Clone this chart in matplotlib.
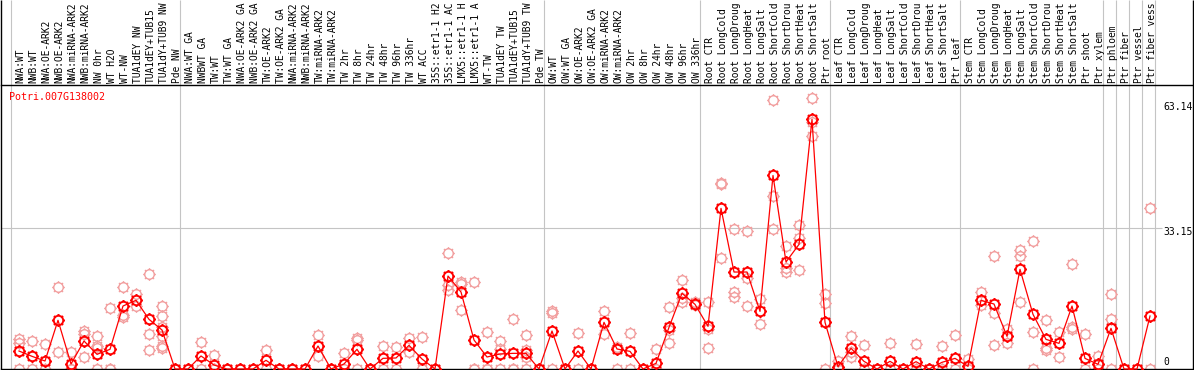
#!/usr/bin/env python3
# Expression profile of Potri.007G138002 across samples (means + replicates).

import numpy as np
import matplotlib
matplotlib.use("Agg")
import matplotlib.pyplot as plt
from matplotlib.path import Path

gene_id = "Potri.007G138002"

# sample names as far as they are visible in the header strip
group_nw = ["NWA:WT", "NWB:WT", "NWA:OE-ARK2", "NWB:OE-ARK2", "NWA:miRNA-ARK2",
            "NWB:miRNA-ARK2", "NW 0hr", "WT H2O", "WT-NW", "TUA1dEY NW",
            "TUA1dEY+TUB15", "TUA1dY+TUB9 NW", "Pde NW"]
group_tw = ["NWA:WT GA", "NWBWT GA", "TW:WT", "TW:WT GA", "NWA:OE-ARK2 GA",
            "NWB:OE-ARK2 GA", "TW:OE-ARK2", "TW:OE-ARK2 GA", "NWA:miRNA-ARK2",
            "NWB:miRNA-ARK2", "TW:miRNA-ARK2", "TW:miRNA-ARK2", "TW 2hr",
            "TW 8hr", "TW 24hr", "TW 48hr", "TW 96hr", "TW 336hr", "WT ACC",
            "35S::etr1-1 H2", "35S::etr1-1 AC", "LMX5::etr1-1 H",
            "LMX5::etr1-1 A", "WT-TW", "TUA1dEY TW", "TUA1dEY+TUB15",
            "TUA1dY+TUB9 TW", "Pde TW"]
group_ow = ["OW:WT", "OW:WT GA", "OW:OE-ARK2", "OW:OE-ARK2 GA", "OW:miRNA-ARK2",
            "OW:miRNA-ARK2", "OW 2hr", "OW 8hr", "OW 24hr", "OW 48hr",
            "OW 96hr", "OW 336hr"]
group_root = ["Root CTR", "Root LongCold", "Root LongDroug", "Root LongHeat",
              "Root LongSalt", "Root ShortCold", "Root ShortDrou",
              "Root ShortHeat", "Root ShortSalt", "Ptr root"]
group_leaf = ["Leaf CTR", "Leaf LongCold", "Leaf LongDroug", "Leaf LongHeat",
              "Leaf LongSalt", "Leaf ShortCold", "Leaf ShortDrou",
              "Leaf ShortHeat", "Leaf ShortSalt", "Ptr leaf"]
group_stem = ["Stem CTR", "Stem LongCold", "Stem LongDroug", "Stem LongHeat",
              "Stem LongSalt", "Stem ShortCold", "Stem ShortDrou",
              "Stem ShortHeat", "Stem ShortSalt", "Ptr shoot", "Ptr xylem"]
group_ptr = ["Ptr phloem", "Ptr fiber", "Ptr vessel", "Ptr fiber vess"]

groups = [group_nw, group_tw, group_ow, group_root, group_leaf, group_stem,
          group_ptr[:1], group_ptr[1:2], group_ptr[2:3], group_ptr[3:]]
labels = group_nw + group_tw + group_ow + group_root + group_leaf + group_stem + group_ptr

means = [4.23, 2.98, 1.88, 11.45, 1.18, 6.58, 3.45, 4.63, 14.81, 16.15, 11.68, 9.17, 0,
         0, 3.06, 0.94, 0, 0, 0, 2.04, 0, 0, 0, 5.41, 0, 1.18, 4.63, 0, 2.51, 2.59,
         5.56, 2.35, 0, 21.86, 18.1, 6.82, 2.82, 3.53, 3.68, 3.68, 0,
         8.93, 0, 4.23, 0, 10.97, 4.7, 4.15, 0, 1.33, 9.8, 17.8, 15.2,
         10.03, 37.77, 22.8, 22.8, 13.55, 45.5, 25.16, 29.3, 58.7, 10.97,
         0.55, 4.86, 1.8, 0, 1.8, 0, 1.72, 0, 1.57, 2.5,
         0.62, 16.15, 15.28, 7.68, 23.43, 12.85, 6.97, 6.03, 14.8, 2.5, 1.1,
         9.56, 0, 0, 12.46]

replicates = [
    [7.05, 6.0, 0], [6.58, 0], [5.88, 0], [19.2, 3.92], [3.92, 0, 0],
    [8.93, 8.23, 2.74], [7.68, 5.4, 4.86, 0], [14.27, 0, 0], [19.2, 12.7, 12.3],
    [17.63, 14.81], [22.3, 8.23, 4.47], [14.8, 12.46, 9.95, 7.76, 5.4, 5.0], [0, 0],
    [0, 0], [6.35, 0], [3.29, 0, 0], [0, 0], [0, 0], [0, 0], [4.39, 0], [0, 0],
    [0, 0], [0, 0], [7.99, 3.06], [0, 0], [3.68, 0], [7.2, 6.8, 0], [0, 0],
    [5.33, 0], [5.17, 0], [7.2, 4.0], [7.52, 0], [0, 0], [27.2, 19.75, 18.57],
    [20.5, 19.98, 13.87], [20.45, 0, 0], [8.7, 0, 0], [6.66, 4.63, 0],
    [11.68, 0, 0], [7.92, 4.47, 2.9, 0], [0, 0],
    [13.7, 13.2, 0], [0, 0], [8.38, 0], [0, 0], [13.63, 8.23], [5.25, 0],
    [8.38, 0], [0, 0], [4.62, 0], [14.5, 9.17, 6.03], [20.92, 16.6, 15.8],
    [15.7, 15.0],
    [15.7, 9.33, 4.94], [43.8, 43.4, 26.0], [32.8, 18.2, 17.0], [32.4, 21.3, 14.8],
    [16.4, 10.5], [63.2, 40.76, 32.8], [28.9, 23.7, 22.7], [33.86, 30.9, 23.3],
    [63.6, 58.1, 54.8], [17.55, 15.4, 0],
    [1.96, 0], [7.76, 4.07, 2.9], [5.64, 0], [0, 0], [6.03, 0], [0, 0], [5.8, 0],
    [0, 0], [5.41, 0], [7.9, 0],
    [2.27, 0], [18.0, 14.96], [26.5, 13.1, 5.56], [9.4, 6.03], [27.98, 26.6, 15.67],
    [30.1, 8.62, 0], [11.44, 4.86, 4.47], [8.62, 2.74], [24.8, 9.95, 9.4],
    [8.23, 0], [3.06, 0],
    [17.63, 11.76, 0], [0, 0], [0, 0], [37.8, 0],
]

tick_values = [63.14, 33.15, 0]
grid_values = [33.15]

# --- geometry (pixels) ---
W, H = 1194, 370
TOP, BOTTOM = 85, 369        # plot area rows
PX0, STEP = 19, 13           # centre of first column, column pitch
PX_PER_UNIT = (BOTTOM - 228) / 33.15

fig = plt.figure(figsize=(W / 100, H / 100), dpi=100)
ax = fig.add_axes([1 / W, (H - BOTTOM) / H, (W - 2) / W, (BOTTOM - TOP) / H])
ax.set_xlim((1 - PX0) / STEP, (W - 1 - PX0) / STEP)
ax.set_ylim(0, (BOTTOM - TOP) / PX_PER_UNIT)
ax.set_xticks([])
ax.set_yticks([])
for side in ("left", "right"):
    ax.spines[side].set_visible(False)
for side in ("top", "bottom"):
    ax.spines[side].set_linewidth(1.0)
    ax.spines[side].set_color("black")

xt = ax.get_xaxis_transform()
full = BOTTOM / (BOTTOM - TOP)   # axes-fraction height reaching the figure top

# group separators (run through the header too)
starts = np.cumsum([0] + [len(g) for g in groups])
ax.vlines(starts - 0.6, 0, full, transform=xt, colors="#c4c4c4", lw=0.8,
          clip_on=False, zorder=0)
# outer black frame
x0, x1 = ax.get_xlim()
ax.vlines([x0 + 0.02, x1 - 0.02], 0, full, transform=xt, colors="black", lw=1.0,
          clip_on=False, zorder=3)

xlab = (1162 - PX0) / STEP
ax.hlines(grid_values, x0, xlab, colors="#c4c4c4", lw=0.8, zorder=0)

# sun-like marker: circle with short radial ticks
ang = np.arange(8) * np.pi / 4
tick_paths = [Path([(np.cos(a), np.sin(a)), (1.35 * np.cos(a), 1.35 * np.sin(a))],
                   [Path.MOVETO, Path.LINETO]) for a in ang]
sun = Path.make_compound_path(Path.circle((0, 0), 1.0), *tick_paths)

rx = [i for i, r in enumerate(replicates) for _ in r]
ry = [v for r in replicates for v in r]
ax.plot(rx, ry, ls="none", marker=sun, ms=9.2, mfc="none", mec="#f2a0a0",
        mew=1.0, clip_on=False, zorder=2)
ax.plot(range(len(means)), means, color="#ff0000", lw=0.9, marker=sun, ms=9.2,
        mfc="none", mec="#ff0000", mew=1.4, clip_on=False, zorder=4)

mono = "DejaVu Sans Mono"
for i, lab in enumerate(labels):
    ax.text(i + 0.12, 1 + 2 / (BOTTOM - TOP), lab, transform=xt, rotation=90,
            ha="center", va="bottom", fontsize=6.9, family=mono, clip_on=False)

ax.text((9 - PX0) / STEP, (BOTTOM - 97) / (BOTTOM - TOP), gene_id, transform=xt,
        ha="left", va="center", color="#ff0000", fontsize=7.2, family=mono)

# value labels on the right
offsets = [-7, -4, 7]
for v, off in zip(tick_values, offsets):
    ax.annotate(f"{v:g}" if v == 0 else f"{v:.2f}", (xlab + 0.08, v),
                xytext=(0, off), textcoords="offset pixels", ha="left",
                va="center", fontsize=7, family=mono)

fig.savefig("out.png", dpi=100)
